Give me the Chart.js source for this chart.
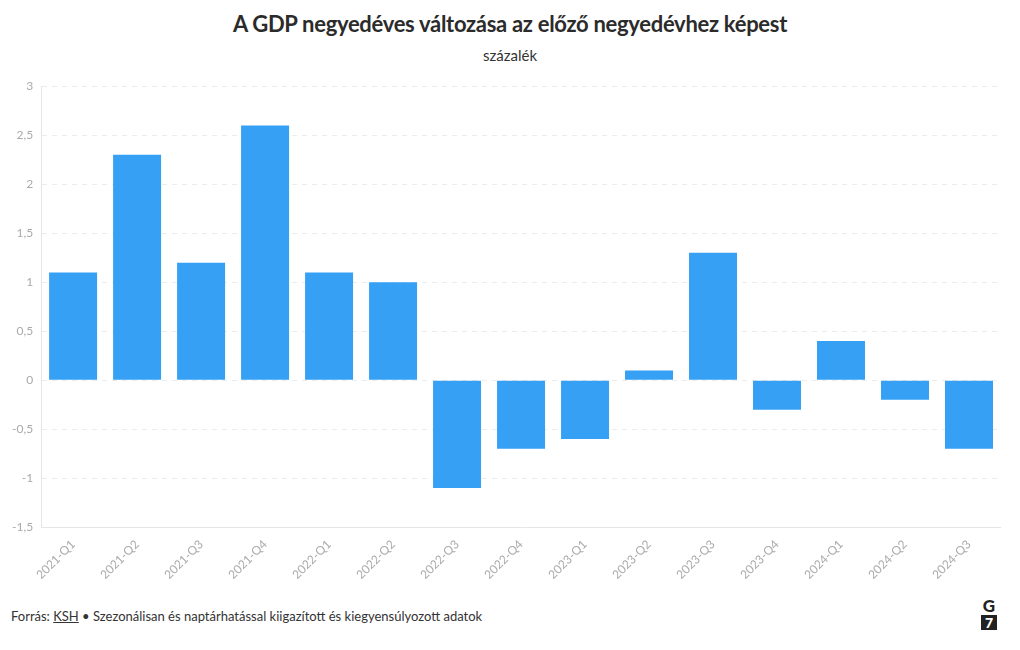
<!DOCTYPE html>
<html><head><meta charset="utf-8">
<script src="https://cdn.jsdelivr.net/npm/chart.js@4"></script>
<style>
html,body{margin:0;padding:0;background:#fff;width:1020px;height:650px;overflow:hidden;font-family:Lato,"Open Sans",sans-serif;}
#title{position:absolute;top:10px;left:0;width:1020px;text-align:center;font-size:22px;font-weight:bold;color:#2b2b2b;letter-spacing:-0.3px;}
#sub{position:absolute;top:46px;left:0;width:1020px;text-align:center;font-size:15px;color:#333;}
#wrap{position:absolute;left:0;top:71px;width:1001px;height:515px;}
#foot{position:absolute;left:11px;top:608px;font-size:13px;color:#333;}
#foot u{text-decoration:underline;}
#logo{position:absolute;left:981px;top:598px;width:16px;text-align:center;font-weight:900;font-size:17px;line-height:16px;color:#222;}
#logo .s{display:block;background:#222;color:#fff;font-size:14px;line-height:15px;margin-top:1px;}
</style></head><body>
<div id="title">A GDP negyedéves változása az előző negyedévhez képest</div>
<div id="sub">százalék</div>
<div id="wrap"><canvas id="c"></canvas></div>
<div id="foot">Forrás: <u>KSH</u> • Szezonálisan és naptárhatással kiigazított és kiegyensúlyozott adatok</div>
<div id="logo">G<span class="s">7</span></div>
<script>
const categories = ["2021-Q1","2021-Q2","2021-Q3","2021-Q4","2022-Q1","2022-Q2","2022-Q3","2022-Q4","2023-Q1","2023-Q2","2023-Q3","2023-Q4","2024-Q1","2024-Q2","2024-Q3"];
const gdpChange = [1.1, 2.3, 1.2, 2.6, 1.1, 1.0, -1.1, -0.7, -0.6, 0.1, 1.3, -0.3, 0.4, -0.2, -0.7];
const yMin = -1.5, yMax = 3, yStep = 0.5;

new Chart(document.getElementById('c'), {
  type: 'bar',
  data: { labels: categories, datasets: [{ data: gdpChange, backgroundColor: '#36a0f4', borderWidth: 0, categoryPercentage: 0.75, barPercentage: 1 }] },
  options: {
    responsive: true, maintainAspectRatio: false, animation: false,
    layout: { padding: { top: 8, right: 0, left: 4, bottom: 0 } },
    plugins: { legend: { display: false }, tooltip: { enabled: false } },
    scales: {
      x: {
        grid: { display: false, drawTicks: true, tickLength: 6, tickColor: '#e6e6e6' },
        border: { color: '#e6e6e6' },
        ticks: { color: '#aaaaaa', font: { family: 'Lato', size: 12 }, maxRotation: 45, minRotation: 45, padding: 4 }
      },
      y: {
        min: yMin, max: yMax,
        grid: { color: '#ececec', drawTicks: false, tickLength: 0 },
        border: { color: '#e6e6e6', dash: [5, 5] },
        ticks: { stepSize: yStep, color: '#aaaaaa', font: { family: 'Lato', size: 12 }, padding: 8,
          callback: v => String(v).replace('.', ',') }
      }
    }
  }
});
</script>
</body></html>
